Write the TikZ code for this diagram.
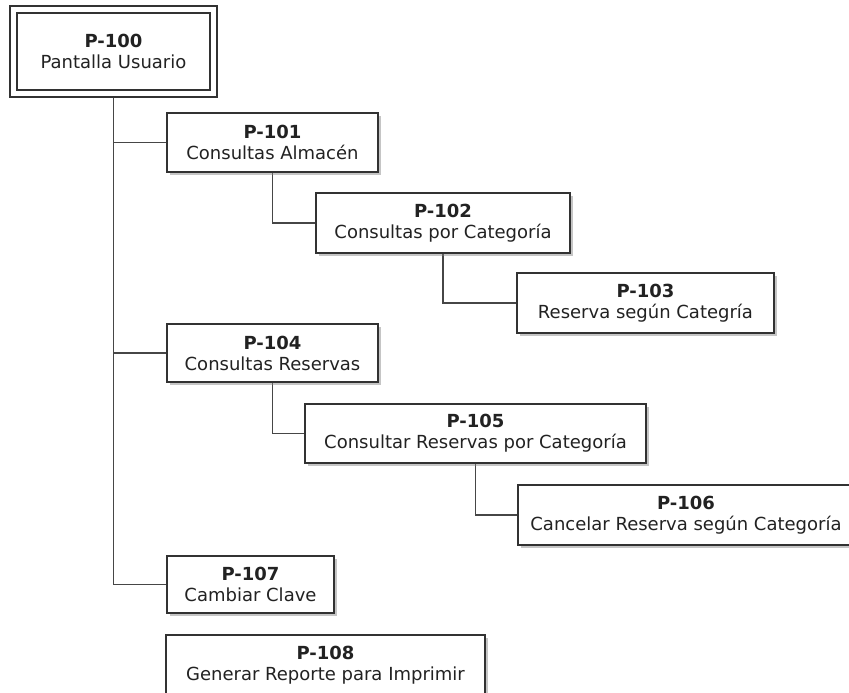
\documentclass[tikz,border=0pt]{standalone}
\usepackage{fontspec}
\setmainfont{DejaVu Sans}
\usepackage{xcolor}
\definecolor{borde}{RGB}{50,50,50}
\definecolor{linea}{RGB}{70,70,70}
\definecolor{texto}{RGB}{34,34,34}
\usetikzlibrary{shadows, backgrounds}

\tikzset{
  pantalla/.style={draw=borde, line width=1.6pt, fill=white, text=texto,
    align=center, inner sep=0pt, outer sep=0pt,
    font=\fontsize{18}{21}\selectfont,
    drop shadow={shadow xshift=3pt, shadow yshift=-3pt, fill=black!50, opacity=0.45}},
  principal/.style={pantalla, line width=2.6pt},
  raiz/.style={pantalla, line width=1.6pt, double=white, double distance=5.4pt},
  enlace/.style={draw=linea, line width=1.8pt}
}

\begin{document}
\begin{tikzpicture}[x=1pt, y=-1pt]
\useasboundingbox (0,0) rectangle (849,693);
\clip (0,0) rectangle (849,693);

% --- pantalla principal ---
\node[raiz, minimum width=200pt, minimum height=84pt] (p100) at (113.5,51.5)
  {\textbf{P-100}\\Pantalla Usuario};

% --- consultas almacen ---
\node[principal, minimum width=211pt, minimum height=59pt] (p101) at (272.5,142.5)
  {\textbf{P-101}\\Consultas Almacén};
\node[pantalla, minimum width=254pt, minimum height=60pt] (p102) at (443,223)
  {\textbf{P-102}\\Consultas por Categoría};
\node[pantalla, minimum width=257pt, minimum height=60pt] (p103) at (645.5,303)
  {\textbf{P-103}\\Reserva según Categría};

% --- consultas reservas ---
\node[principal, minimum width=211pt, minimum height=58pt] (p104) at (272.5,353)
  {\textbf{P-104}\\Consultas Reservas};
\node[pantalla, minimum width=341pt, minimum height=59pt] (p105) at (475.5,433.5)
  {\textbf{P-105}\\Consultar Reservas por Categoría};
\node[pantalla, minimum width=336pt, minimum height=60pt] (p106) at (686,515)
  {\textbf{P-106}\\Cancelar Reserva según Categoría};

% --- otras pantallas ---
\node[principal, minimum width=167pt, minimum height=57pt] (p107) at (250.5,584.5)
  {\textbf{P-107}\\Cambiar Clave};
\node[pantalla, minimum width=319pt, minimum height=60pt] (p108) at (325.5,665)
  {\textbf{P-108}\\Generar Reporte para Imprimir};

% --- conectores ---
\begin{pgfonlayer}{background}
\fill[white] (0,0) rectangle (849,693);
\draw[enlace] (p100.south) |- (p101.west);
\draw[enlace] (p100.south) |- (p104.west);
\draw[enlace] (p100.south) |- (p107.west);
\draw[enlace] (p101.south) |- (p102.west);
\draw[enlace] (p102.south) |- (p103.west);
\draw[enlace] (p104.south) |- (p105.west);
\draw[enlace] (p105.south) |- (p106.west);
\end{pgfonlayer}

\end{tikzpicture}
\end{document}
